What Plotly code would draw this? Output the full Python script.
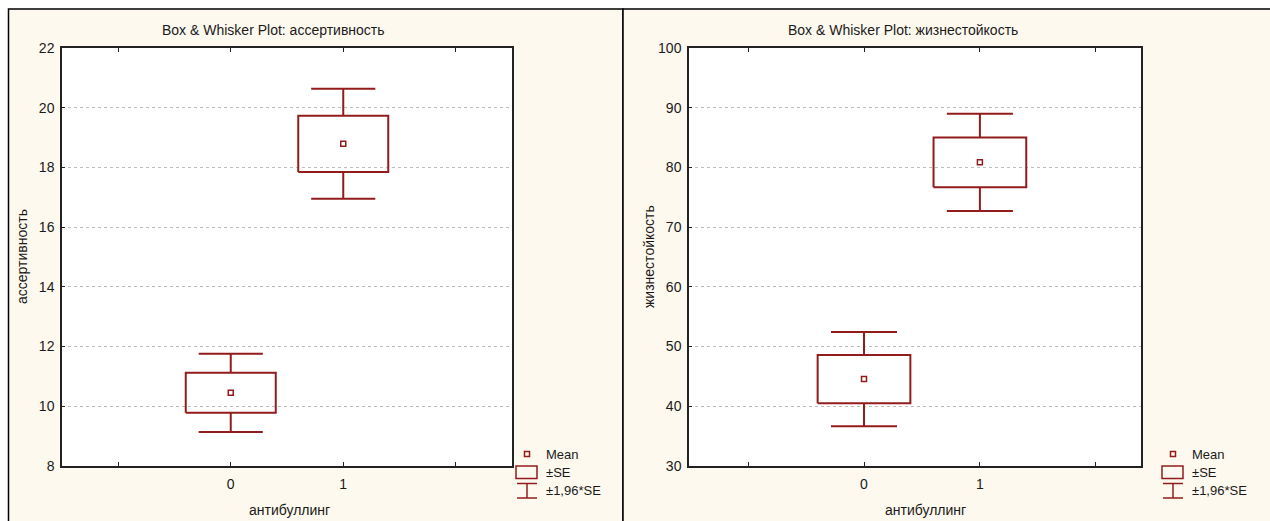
import plotly.graph_objects as go

# ---------------- data ----------------
categories = ["0", "1"]
x_pos = [0, 1]
x_ticks = [-1, 0, 1, 2]
x_ticktext = ["", "0", "1", ""]

assert_mean = [10.45, 18.79]
assert_se = [0.67, 0.94]

resil_mean = [44.55, 80.85]
resil_se = [4.03, 4.15]

y1_ticks = [8, 10, 12, 14, 16, 18, 20, 22]
y2_ticks = [30, 40, 50, 60, 70, 80, 90, 100]

ci_mult = 1.96
titles = ["Box & Whisker Plot: ассертивность", "Box & Whisker Plot: жизнестойкость"]
y_titles = ["ассертивность", "жизнестойкость"]
x_title = "антибуллинг"
legend_labels = ["Mean", "±SE", "±1,96*SE"]

# ---------------- style ----------------
W, H = 1270, 521
RED = "#921C1C"
TXT = "#1a1a1a"
CREAM = "#FEF9EE"
FONT = "Liberation Sans, Arial, sans-serif"
BOX_HALF = 0.40
CAP_HALF = 0.285


def px(x):
    return x / W


def py(y):
    return 1 - y / H


fig = go.Figure()


def add_panel(means, ses, xa, ya):
    bx, by, wx, wy = [], [], [], []
    for c, m, s in zip(x_pos, means, ses):
        lo, hi = m - s, m + s
        wlo, whi = m - ci_mult * s, m + ci_mult * s
        bx += [c - BOX_HALF, c + BOX_HALF, c + BOX_HALF, c - BOX_HALF, c - BOX_HALF, None]
        by += [lo, lo, hi, hi, lo, None]
        wx += [c, c, None, c - CAP_HALF, c + CAP_HALF, None,
               c, c, None, c - CAP_HALF, c + CAP_HALF, None]
        wy += [hi, whi, None, whi, whi, None,
               lo, wlo, None, wlo, wlo, None]
    fig.add_trace(go.Scatter(x=wx, y=wy, mode="lines", xaxis=xa, yaxis=ya,
                             line=dict(color=RED, width=2), showlegend=False, hoverinfo="skip"))
    fig.add_trace(go.Scatter(x=bx, y=by, mode="lines", xaxis=xa, yaxis=ya,
                             line=dict(color=RED, width=2), showlegend=False, hoverinfo="skip"))
    fig.add_trace(go.Scatter(x=x_pos, y=means, mode="markers", xaxis=xa, yaxis=ya,
                             marker=dict(symbol="square-open", size=5, color=RED,
                                         line=dict(color=RED, width=1.5)),
                             showlegend=False))


add_panel(assert_mean, assert_se, "x", "y")
add_panel(resil_mean, resil_se, "x2", "y2")

panels = [
    dict(px0=8.5, px1=623, plot=(62, 512), title_x=273, legend_x=516, xtitle_x=289),
    dict(px0=623, px1=1285, plot=(689, 1141), title_x=903, legend_x=1162, xtitle_x=925),
]
PT, PB = 48, 466

shapes = []
annotations = []
for i, p in enumerate(panels):
    shapes.append(dict(type="rect", xref="paper", yref="paper", layer="below",
                       x0=px(p["px0"]), x1=px(p["px1"]), y0=py(9), y1=py(560),
                       fillcolor=CREAM, line=dict(color="black", width=1.5)))
    shapes.append(dict(type="rect", xref="paper", yref="paper", layer="below",
                       x0=px(p["plot"][0]), x1=px(p["plot"][1]), y0=py(PB), y1=py(PT),
                       fillcolor="white", line=dict(width=0)))
    annotations.append(dict(text=titles[i], xref="paper", yref="paper",
                            x=px(p["title_x"]), y=py(30), showarrow=False,
                            xanchor="center", yanchor="middle",
                            font=dict(size=14, color=TXT, family=FONT)))
    annotations.append(dict(text=x_title, xref="paper", yref="paper",
                            x=px(p["xtitle_x"]), y=py(510), showarrow=False,
                            xanchor="center", yanchor="middle",
                            font=dict(size=14, color=TXT, family=FONT)))
    annotations.append(dict(text=y_titles[i], xref="paper", yref="paper",
                            x=px(p["plot"][0] - 40), y=py((PT + PB) / 2), showarrow=False,
                            textangle=-90, xanchor="center", yanchor="middle",
                            font=dict(size=14, color=TXT, family=FONT)))
    # legend
    lx = p["legend_x"]
    mcx = lx + 11
    shapes.append(dict(type="rect", xref="paper", yref="paper",
                       x0=px(mcx - 2.5), x1=px(mcx + 2.5), y0=py(456.5), y1=py(451.5),
                       line=dict(color=RED, width=1.5)))
    shapes.append(dict(type="rect", xref="paper", yref="paper",
                       x0=px(lx), x1=px(lx + 21), y0=py(478.5), y1=py(466),
                       line=dict(color=RED, width=1.5)))
    shapes.append(dict(type="line", xref="paper", yref="paper",
                       x0=px(lx + 1), x1=px(lx + 21), y0=py(483.5), y1=py(483.5),
                       line=dict(color=RED, width=1.5)))
    shapes.append(dict(type="line", xref="paper", yref="paper",
                       x0=px(lx + 1), x1=px(lx + 21), y0=py(498), y1=py(498),
                       line=dict(color=RED, width=1.5)))
    shapes.append(dict(type="line", xref="paper", yref="paper",
                       x0=px(mcx), x1=px(mcx), y0=py(483.5), y1=py(498),
                       line=dict(color=RED, width=1.5)))
    for lbl, ly in zip(legend_labels, [454, 472, 490]):
        annotations.append(dict(text=lbl, xref="paper", yref="paper",
                                x=px(lx + 28), y=py(ly), showarrow=False,
                                xanchor="left", yanchor="middle",
                                font=dict(size=13, color=TXT, family=FONT)))

xcommon = dict(tickmode="array", tickvals=x_ticks, ticktext=x_ticktext,
               ticks="inside", ticklen=4, tickcolor="#222", showline=True, mirror="ticks",
               linecolor="#222", linewidth=1.5, showgrid=False, zeroline=False,
               ticklabelstandoff=4, automargin=False,
               tickfont=dict(size=14, color=TXT, family=FONT))
ycommon = dict(ticks="inside", ticklen=3, tickcolor="#222", showline=True, mirror=True,
               linecolor="#222", linewidth=1.5, showgrid=True, gridcolor="#BDBDBD",
               griddash="dot", gridwidth=1, zeroline=False, ticklabelstandoff=3,
               automargin=False,
               tickfont=dict(size=14, color=TXT, family=FONT))

fig.update_layout(
    width=W, height=H,
    margin=dict(l=0, r=0, t=0, b=0, pad=0, autoexpand=False),
    paper_bgcolor="white", plot_bgcolor="rgba(0,0,0,0)",
    showlegend=False,
    xaxis=dict(domain=[px(62), px(512)], anchor="y", range=[-1.5, 2.5], **xcommon),
    yaxis=dict(domain=[py(PB), py(PT)], anchor="x", range=[8, 22], tickvals=y1_ticks, **ycommon),
    xaxis2=dict(domain=[px(689), px(1141)], anchor="y2", range=[-1.51, 2.39], **xcommon),
    yaxis2=dict(domain=[py(PB), py(PT)], anchor="x2", range=[30, 100], tickvals=y2_ticks, **ycommon),
    shapes=shapes,
    annotations=annotations,
)

post = ("var d=document.getElementById('{plot_id}');"
        "document.body.style.margin='0';document.body.style.padding='0';"
        "d.style.position='absolute';d.style.left='0px';d.style.top='0px';")
fig.write_html("out.html", post_script=post, config={"displayModeBar": False})
